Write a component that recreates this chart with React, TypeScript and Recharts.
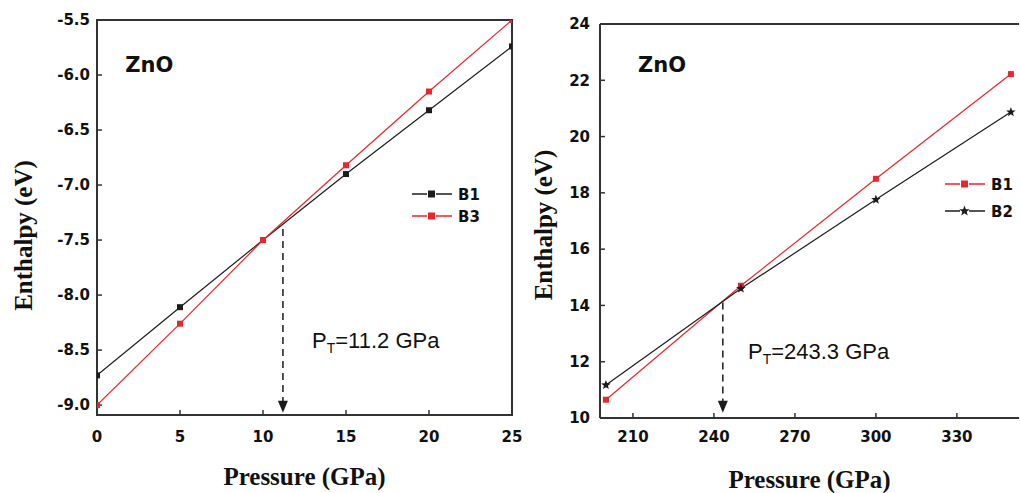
import React from 'react';
import {
  LineChart,
  Line,
  XAxis,
  YAxis,
  ReferenceLine,
  ReferenceDot,
  ReferenceArea,
  Legend,
} from 'recharts';

// left panel: B1 vs B3
const leftPressure = [0, 5, 10, 15, 20, 25];
const leftB1 = [-8.73, -8.11, -7.5, -6.9, -6.32, -5.74];
const leftB3 = [-9.0, -8.26, -7.5, -6.82, -6.15, -5.5];
const leftXTicks = [0, 5, 10, 15, 20, 25];
const leftYTicks = [-9.0, -8.5, -8.0, -7.5, -7.0, -6.5, -6.0, -5.5];
const leftTransition = 11.2;

// right panel: B1 vs B2
const rightPressure = [200, 250, 300, 350];
const rightB1 = [10.65, 14.7, 18.5, 22.22];
const rightB2 = [11.17, 14.6, 17.76, 20.87];
const rightXTicks = [210, 240, 270, 300, 330];
const rightYTicks = [10, 12, 14, 16, 18, 20, 22, 24];
const rightTransition = 243.3;

const BLACK = '#1c1c1c';
const RED = '#e8262b';
const AXIS = '#333';
const TICK_FONT = "'DejaVu Sans', sans-serif";
const TITLE_FONT = "'Liberation Serif', 'Times New Roman', serif";
const NOTE_FONT = "'Liberation Sans', Arial, sans-serif";

const leftRows = leftPressure.map((p, i) => ({ p, b1: leftB1[i], b3: leftB3[i] }));
const rightRows = rightPressure.map((p, i) => ({ p, b1: rightB1[i], b2: rightB2[i] }));

const starPoints = (cx: number, cy: number, R: number, r: number) => {
  const pts: string[] = [];
  for (let k = 0; k < 10; k++) {
    const a = -Math.PI / 2 + (k * Math.PI) / 5;
    const rad = k % 2 === 0 ? R : r;
    pts.push(`${cx + rad * Math.cos(a)},${cy + rad * Math.sin(a)}`);
  }
  return pts.join(' ');
};

const squareDot = (color: string) => (props: any) => {
  const { cx, cy, index } = props;
  if (cx == null || cy == null) return <g key={index} />;
  return <rect key={index} x={cx - 3} y={cy - 3} width={6} height={6} fill={color} />;
};

const starDot = (color: string) => (props: any) => {
  const { cx, cy, index } = props;
  if (cx == null || cy == null) return <g key={index} />;
  return <polygon key={index} points={starPoints(cx, cy, 5, 2.1)} fill={color} />;
};

type LegendItem = { name: string; color: string; marker: 'square' | 'star' };

function LegendBox({ items, gap }: { items: LegendItem[]; gap: number }) {
  return (
    <svg width={80} height={items.length * gap + 4}>
      {items.map((it, i) => {
        const y = 10 + i * gap;
        return (
          <g key={it.name}>
            <line x1={0} x2={15} y1={y} y2={y} stroke={it.color} strokeWidth={1.5} />
            {it.marker === 'square' ? (
              <rect x={16} y={y - 3.5} width={7} height={7} fill={it.color} />
            ) : (
              <polygon points={starPoints(19.5, y, 5.5, 2.3)} fill={it.color} />
            )}
            <line x1={24} x2={40} y1={y} y2={y} stroke={it.color} strokeWidth={1.5} />
            <text
              x={46}
              y={y + 5.5}
              fontFamily={TICK_FONT}
              fontWeight="bold"
              fontSize={15}
              fill="#111"
            >
              {it.name}
            </text>
          </g>
        );
      })}
    </svg>
  );
}

function YTitle(props: any) {
  const { viewBox, dy } = props;
  const cx = viewBox.x + 23;
  const cy = viewBox.y + viewBox.height / 2 + dy;
  return (
    <text
      x={cx}
      y={cy}
      transform={`rotate(-90, ${cx}, ${cy})`}
      textAnchor="middle"
      dominantBaseline="central"
      fontFamily={TITLE_FONT}
      fontWeight="bold"
      fontSize={25}
      fill="#111"
    >
      Enthalpy (eV)
    </text>
  );
}

function XTitle(props: any) {
  const { viewBox, dy } = props;
  const cx = viewBox.x + viewBox.width / 2;
  const cy = viewBox.y + dy;
  return (
    <text
      x={cx}
      y={cy}
      textAnchor="middle"
      fontFamily={TITLE_FONT}
      fontWeight="bold"
      fontSize={25}
      fill="#111"
    >
      Pressure (GPa)
    </text>
  );
}

const zno = (p: any) => (
  <text x={p.cx} y={p.cy} fontFamily={TICK_FONT} fontWeight="bold" fontSize={21} fill="#111">
    ZnO
  </text>
);

const note = (value: string) => (p: any) => (
  <text x={p.cx} y={p.cy} fontFamily={NOTE_FONT} fontSize={22} fill="#111">
    P
    <tspan fontSize={14} dy={5}>
      T
    </tspan>
    <tspan dy={-5}>={value} GPa</tspan>
  </text>
);

const arrowHead = (p: any) => (
  <polygon
    points={`${p.cx},${p.cy} ${p.cx - 5},${p.cy - 12} ${p.cx + 5},${p.cy - 12}`}
    fill={BLACK}
  />
);

const tickStyle = { fill: '#111', fontSize: 15, fontWeight: 'bold', fontFamily: TICK_FONT };
const axisLine = { stroke: AXIS, strokeWidth: 2 };
const tickLine = { stroke: AXIS, strokeWidth: 1.5 };

export default function App() {
  return (
    <div
      style={{
        position: 'absolute',
        left: 0,
        top: 0,
        width: 1020,
        height: 493,
        background: '#fff',
        overflow: 'hidden',
      }}
    >
      <div style={{ position: 'absolute', left: 0, top: 0 }}>
        <LineChart width={530} height={493} data={leftRows} margin={{ top: 20, right: 18, bottom: 0, left: 0 }}>
          <XAxis
            type="number"
            dataKey="p"
            domain={[0, 25]}
            ticks={leftXTicks}
            interval={0}
            allowDataOverflow
            height={78}
            tickSize={-5}
            tickMargin={21}
            axisLine={axisLine}
            tickLine={tickLine}
            tick={tickStyle}
            label={<XTitle dy={70} />}
          />
          <YAxis
            type="number"
            domain={[-9.09, -5.5]}
            ticks={leftYTicks}
            interval={0}
            allowDataOverflow
            width={97}
            tickSize={-5}
            tickMargin={12}
            axisLine={axisLine}
            tickLine={tickLine}
            tick={tickStyle}
            tickFormatter={(v: number) => v.toFixed(1)}
            label={<YTitle dy={18} />}
          />
          <ReferenceArea x1={0} x2={25} y1={-9.09} y2={-5.5} fill="none" stroke={AXIS} strokeWidth={2} />
          <ReferenceLine
            segment={[
              { x: leftTransition, y: -7.4 },
              { x: leftTransition, y: -8.98 },
            ]}
            stroke={BLACK}
            strokeWidth={1.5}
            strokeDasharray="7 5"
          />
          <ReferenceDot x={leftTransition} y={-9.07} r={0} shape={arrowHead} />
          <ReferenceDot x={1.7} y={-5.97} r={0} shape={zno} />
          <ReferenceDot x={12.95} y={-8.48} r={0} shape={note('11.2')} />
          <Line
            dataKey="b1"
            name="B1"
            stroke={BLACK}
            strokeWidth={1.2}
            dot={squareDot(BLACK)}
            isAnimationActive={false}
          />
          <Line
            dataKey="b3"
            name="B3"
            stroke={RED}
            strokeWidth={1.2}
            dot={squareDot(RED)}
            isAnimationActive={false}
          />
          <Legend
            layout="vertical"
            align="center"
            verticalAlign="middle"
            wrapperStyle={{ left: 412, top: 184, width: 'auto' }}
            content={() => (
              <LegendBox
                gap={22}
                items={[
                  { name: 'B1', color: BLACK, marker: 'square' },
                  { name: 'B3', color: RED, marker: 'square' },
                ]}
              />
            )}
          />
        </LineChart>
      </div>

      <div style={{ position: 'absolute', left: 520, top: 0 }}>
        <LineChart width={500} height={493} data={rightRows} margin={{ top: 24, right: 1, bottom: 0, left: 0 }}>
          <XAxis
            type="number"
            dataKey="p"
            domain={[197.8, 353]}
            ticks={rightXTicks}
            interval={0}
            allowDataOverflow
            height={75}
            tickSize={-5}
            tickMargin={18}
            axisLine={axisLine}
            tickLine={tickLine}
            tick={tickStyle}
            label={<XTitle dy={70} />}
          />
          <YAxis
            type="number"
            domain={[10, 24]}
            ticks={rightYTicks}
            interval={0}
            allowDataOverflow
            width={80}
            tickSize={-5}
            tickMargin={15}
            axisLine={axisLine}
            tickLine={tickLine}
            tick={tickStyle}
            label={<YTitle dy={4} />}
          />
          <ReferenceLine y={24} stroke={AXIS} strokeWidth={2} />
          <ReferenceLine
            segment={[
              { x: rightTransition, y: 14.1 },
              { x: rightTransition, y: 10.6 },
            ]}
            stroke={BLACK}
            strokeWidth={1.5}
            strokeDasharray="7 5"
          />
          <ReferenceDot x={rightTransition} y={10.19} r={0} shape={arrowHead} />
          <ReferenceDot x={211.9} y={22.29} r={0} shape={zno} />
          <ReferenceDot x={252.6} y={12.1} r={0} shape={note('243.3')} />
          <Line
            dataKey="b1"
            name="B1"
            stroke={RED}
            strokeWidth={1.2}
            dot={squareDot(RED)}
            isAnimationActive={false}
          />
          <Line
            dataKey="b2"
            name="B2"
            stroke={BLACK}
            strokeWidth={1.2}
            dot={starDot(BLACK)}
            isAnimationActive={false}
          />
          <Legend
            layout="vertical"
            align="center"
            verticalAlign="middle"
            wrapperStyle={{ left: 425, top: 174, width: 'auto' }}
            content={() => (
              <LegendBox
                gap={27}
                items={[
                  { name: 'B1', color: RED, marker: 'square' },
                  { name: 'B2', color: BLACK, marker: 'star' },
                ]}
              />
            )}
          />
        </LineChart>
      </div>
    </div>
  );
}
